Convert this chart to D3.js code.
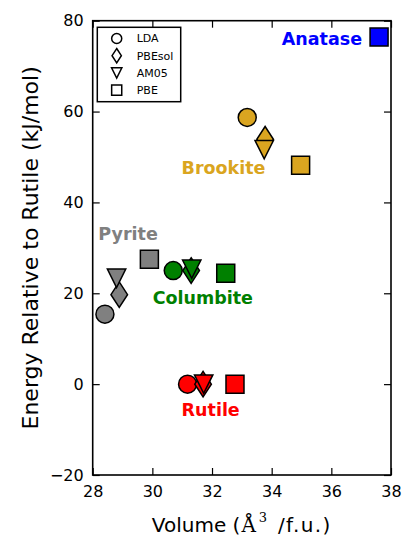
<!DOCTYPE html>
<html>
<head>
<meta charset="utf-8">
<script src="https://cdn.jsdelivr.net/npm/d3@7"></script>
<style>
  html, body { margin: 0; padding: 0; background: #fff; }
  svg { display: block; font-family: "DejaVu Sans", sans-serif; }
</style>
</head>
<body>
<svg id="chart" width="404" height="539"></svg>
<script>
// TiO2 polymorphs: volume vs. energy relative to rutile for four functionals
const structures = ["Anatase", "Brookite", "Pyrite", "Columbite", "Rutile"];
const structureColors = ["#0000ff", "#daa520", "#808080", "#008000", "#ff0000"];
const methods = ["LDA", "PBEsol", "AM05", "PBE"];

// Volume (Å^3 per formula unit), one array per functional, in structure order
const volumeLDA    = [null, 33.18, 28.41, 30.70, 31.18];
const volumePBEsol = [null, 33.78, 28.89, 31.30, 31.70];
const volumeAM05   = [null, 33.75, 28.80, 31.32, 31.72];
const volumePBE    = [37.60, 34.97, 29.90, 32.46, 32.77];

// Energy relative to rutile (kJ/mol)
const energyLDA    = [null, 58.7, 15.4, 25.0, 0];
const energyPBEsol = [null, 53.9, 19.7, 25.0, 0];
const energyAM05   = [null, 51.6, 23.3, 25.3, 0];
const energyPBE    = [76.4, 48.2, 27.5, 24.4, 0];

// Structure name annotations, anchored in data coordinates
const labelVolume = [34.34, 30.98, 28.19, 30.01, 30.98];
const labelEnergy = [76.0, 47.6, 33.1, 19.1, -5.7];

const xTicks = [28, 30, 32, 34, 36, 38];
const yTicks = [-20, 0, 20, 40, 60, 80];

const volumes = [volumeLDA, volumePBEsol, volumeAM05, volumePBE];
const energies = [energyLDA, energyPBEsol, energyAM05, energyPBE];

const svg = d3.select("#chart");
const plotLeft = 92.7, plotRight = 391, plotTop = 20.7, plotBottom = 475;

const x = d3.scaleLinear().domain([28, 38]).range([plotLeft, plotRight]);
const y = d3.scaleLinear().domain([-20, 80]).range([plotBottom, plotTop]);

// Marker outlines (centred at the origin), scaled by s
const markerPath = {
  LDA: s => { const r = 9 * s; return `M${r},0A${r},${r} 0 1,1 ${-r},0A${r},${r} 0 1,1 ${r},0Z`; },
  PBEsol: s => { const w = 8.3 * s, h = 12.8 * s; return `M0,${-h}L${w},0L0,${h}L${-w},0Z`; },
  AM05: s => { const h = 9.2 * s; return `M${-h},${-h}L${h},${-h}L0,${h}Z`; },
  PBE: s => { const h = 9 * s; return `M${-h},${-h}H${h}V${h}H${-h}Z`; }
};

// Axes: ticks point inward on all four sides
const tick = 7;
svg.append("g")
  .attr("transform", `translate(0,${plotBottom})`)
  .call(d3.axisBottom(x).tickValues(xTicks).tickSizeInner(-tick).tickSizeOuter(0).tickPadding(11))
  .call(g => g.select(".domain").remove());
svg.append("g")
  .attr("transform", `translate(0,${plotTop})`)
  .call(d3.axisTop(x).tickValues(xTicks).tickSizeInner(-tick).tickSizeOuter(0).tickFormat(""))
  .call(g => g.select(".domain").remove());
svg.append("g")
  .attr("transform", `translate(${plotLeft},0)`)
  .call(d3.axisLeft(y).tickValues(yTicks).tickSizeInner(-tick).tickSizeOuter(0).tickPadding(9))
  .call(g => g.select(".domain").remove());
svg.append("g")
  .attr("transform", `translate(${plotRight},0)`)
  .call(d3.axisRight(y).tickValues(yTicks).tickSizeInner(-tick).tickSizeOuter(0).tickFormat(""))
  .call(g => g.select(".domain").remove());

svg.selectAll(".tick line").attr("stroke", "#000").attr("stroke-width", 1.2);
svg.selectAll(".tick text").attr("font-size", 16).attr("fill", "#000")
  .attr("font-family", "DejaVu Sans, sans-serif");

// Plot frame
svg.append("rect")
  .attr("x", plotLeft).attr("y", plotTop)
  .attr("width", plotRight - plotLeft).attr("height", plotBottom - plotTop)
  .attr("fill", "none").attr("stroke", "#000").attr("stroke-width", 1.6);

// Data markers: per structure, drawn LDA, PBEsol, AM05, PBE
const points = [];
structures.forEach((s, i) => {
  methods.forEach((m, j) => {
    if (volumes[j][i] != null) {
      points.push({ method: m, color: structureColors[i], v: volumes[j][i], e: energies[j][i] });
    }
  });
});

svg.append("g").selectAll("path")
  .data(points)
  .join("path")
  .attr("transform", d => `translate(${x(d.v)},${y(d.e)})`)
  .attr("d", d => markerPath[d.method](1))
  .attr("fill", d => d.color)
  .attr("stroke", "#000")
  .attr("stroke-width", 1.5)
  .attr("stroke-linejoin", "miter");

// Structure names
svg.append("g").selectAll("text")
  .data(structures)
  .join("text")
  .attr("x", (d, i) => x(labelVolume[i]))
  .attr("y", (d, i) => y(labelEnergy[i]))
  .attr("dy", "0.36em")
  .attr("font-size", 17.5)
  .attr("font-weight", "bold")
  .attr("fill", (d, i) => structureColors[i])
  .text(d => d);

// Legend
const legend = svg.append("g");
legend.append("rect")
  .attr("x", 97.3).attr("y", 27.3).attr("width", 83.4).attr("height", 74.4)
  .attr("fill", "#fff").attr("stroke", "#000").attr("stroke-width", 1.5);
const rows = legend.selectAll("g")
  .data(methods)
  .join("g")
  .attr("transform", (d, i) => `translate(116.7,${38.5 + i * 17.2})`);
rows.append("path")
  .attr("d", d => markerPath[d](0.56))
  .attr("fill", "#fff").attr("stroke", "#000").attr("stroke-width", 1.5);
rows.append("text")
  .attr("x", 20).attr("dy", "0.36em")
  .attr("font-size", 11)
  .attr("fill", "#000")
  .text(d => d);

// Axis titles
svg.append("text")
  .attr("transform", `translate(30,${(plotTop + plotBottom) / 2}) rotate(-90)`)
  .attr("text-anchor", "middle")
  .attr("dy", "0.36em")
  .attr("font-size", 22)
  .text("Energy Relative to Rutile (kJ/mol)");

const xt = svg.append("text")
  .attr("x", (plotLeft + plotRight) / 2)
  .attr("y", 525)
  .attr("text-anchor", "middle")
  .attr("dy", "0.36em")
  .attr("font-size", 20);
xt.append("tspan").text("Volume (");
xt.append("tspan").attr("dx", 1).attr("font-family", "DejaVu Serif, serif").text("Å");
xt.append("tspan").attr("dx", 3).attr("font-family", "DejaVu Serif, serif").attr("font-size", 13).attr("dy", "-0.75em").text("3");
xt.append("tspan").attr("dx", 3).attr("dy", "0.49em").attr("letter-spacing", 1.4).text(" /f.u.)");
</script>
</body>
</html>
